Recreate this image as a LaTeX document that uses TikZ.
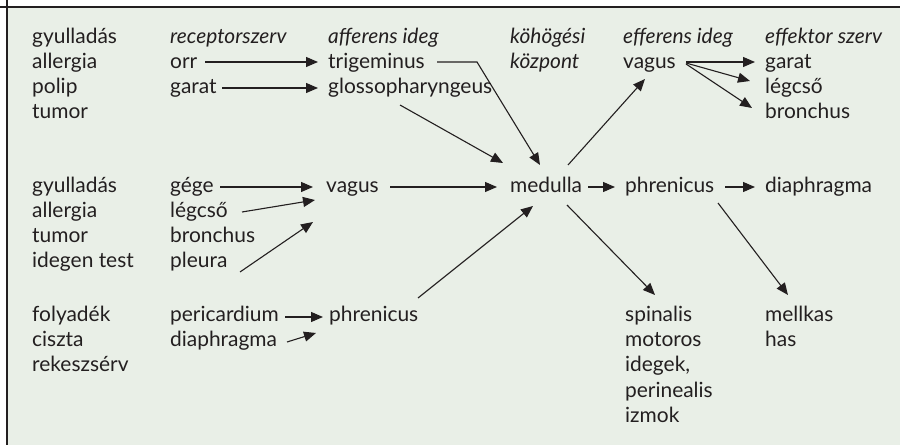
\documentclass[tikz,border=0pt]{standalone}
\usepackage{fontspec}
\setmainfont{Lato}
\usetikzlibrary{arrows.meta}
\definecolor{bg}{RGB}{233,239,231}
\definecolor{ink}{RGB}{35,31,32}
\tikzset{
  lbl/.style={anchor=base west, inner sep=0pt, text=ink, font=\fontsize{21}{24}\selectfont},
  hdr/.style={lbl, font=\fontsize{21}{24}\selectfont\itshape},
  arr/.style={draw=ink, line width=1.1bp, -{Triangle[length=12bp,width=10bp]}},
}
\begin{document}
\begin{tikzpicture}[x=1bp,y=-1bp]
\useasboundingbox (0,0) rectangle (900,445);
\fill[bg] (7,7) rectangle (900,445);
\draw[ink, line width=1.6bp] (0,7) -- (900,7) (7,0) -- (7,445);
% column 1
\foreach \t [count=\i] in {gyulladás,allergia,polip,tumor}
  \node[lbl] (a\i) at (32,{44+25*(\i-1)}) {\t};
\foreach \t [count=\i] in {gyulladás,allergia,tumor,idegen test}
  \node[lbl] (b\i) at (32,{193+25*(\i-1)}) {\t};
\foreach \t [count=\i] in {folyadék,ciszta,rekeszsérv}
  \node[lbl] (c\i) at (32,{322+25*(\i-1)}) {\t};
% headers
\node[hdr] (hrec) at (170,44) {receptorszerv};
\node[hdr] (haff) at (328,44) {afferens ideg};
\node[hdr] (hkoh) at (510,44) {köhögési};
\node[hdr] (hkoz) at (510,69) {központ};
\node[hdr] (heff) at (623,44) {efferens ideg};
\node[hdr] (hefk) at (765,44) {effektor szerv};
% receptors
\node[lbl] (orr) at (170,69) {orr};
\node[lbl] (garat) at (170,94) {garat};
\node[lbl] (gege) at (170,193) {gége};
\node[lbl] (legcso) at (170,218) {légcső};
\node[lbl] (bronchus) at (170,243) {bronchus};
\node[lbl] (pleura) at (170,268) {pleura};
\node[lbl] (peric) at (170,322) {pericardium};
\node[lbl] (diaph) at (170,347) {diaphragma};
% afferent
\node[lbl] (trig) at (328,69) {trigeminus};
\node[lbl] (glosso) at (328,94) {glossopharyngeus};
\node[lbl] (vagusA) at (326,193) {vagus};
\node[lbl] (phrenA) at (329,322) {phrenicus};
% centre
\node[lbl] (medulla) at (510,193) {medulla};
% efferent
\node[lbl] (vagusE) at (623,69) {vagus};
\node[lbl] (phrenE) at (625,193) {phrenicus};
\foreach \t [count=\i] in {spinalis,motoros,{idegek,},perinealis,izmok}
  \node[lbl] (s\i) at (625,{322+25*(\i-1)}) {\t};
% effectors
\node[lbl] (garatE) at (765,69) {garat};
\node[lbl] (legcsoE) at (765,94) {légcső};
\node[lbl] (bronchusE) at (765,119) {bronchus};
\node[lbl] (diaphE) at (765,193) {diaphragma};
\node[lbl] (mellkas) at (765,322) {mellkas};
\node[lbl] (has) at (765,347) {has};
% arrows
\draw[arr] ([shift={(35,-7)}]orr.base west) -- ([shift={(-10,-7)}]trig.base west);
\draw[arr] ([shift={(52,-6)}]garat.base west) -- ([shift={(-10,-6)}]glosso.base west);
\draw[arr] ([shift={(109,-7)}]trig.base west) -- ([shift={(149,-7)}]trig.base west) -- ([shift={(30,-28)}]medulla.base west);
\draw[arr] ([shift={(72,11)}]glosso.base west) -- ([shift={(-7,-30)}]medulla.base west);
\draw[arr] ([shift={(58,-28)}]medulla.base west) -- ([shift={(22,10)}]vagusE.base west);
\draw[arr] ([shift={(63,-7)}]vagusE.base west) -- ([shift={(-10,-7)}]garatE.base west);
\draw[arr] ([shift={(63,-6)}]vagusE.base west) -- ([shift={(-15,-13)}]legcsoE.base west);
\draw[arr] ([shift={(63,-5)}]vagusE.base west) -- ([shift={(-13,-11)}]bronchusE.base west);
\draw[arr] ([shift={(50,-6)}]gege.base west) -- ([shift={(-13,-6)}]vagusA.base west);
\draw[arr] ([shift={(72,-6)}]legcso.base west) -- ([shift={(-11,7)}]vagusA.base west);
\draw[arr] ([shift={(70,4)}]pleura.base west) -- ([shift={(-13,29)}]vagusA.base west);
\draw[arr] ([shift={(64,-6)}]vagusA.base west) -- ([shift={(-13,-6)}]medulla.base west);
\draw[arr] ([shift={(89,-24)}]phrenA.base west) -- ([shift={(23,13)}]medulla.base west);
\draw[arr] ([shift={(78,-6)}]medulla.base west) -- ([shift={(-10,-6)}]phrenE.base west);
\draw[arr] ([shift={(100,-6)}]phrenE.base west) -- ([shift={(-10,-6)}]diaphE.base west);
\draw[arr] ([shift={(57,12)}]medulla.base west) -- ([shift={(30,-27)}]s1.base west);
\draw[arr] ([shift={(93,10)}]phrenE.base west) -- ([shift={(23,-27)}]mellkas.base west);
\draw[arr] ([shift={(115,-5)}]peric.base west) -- ([shift={(-6,-5)}]phrenA.base west);
\draw[arr] ([shift={(117,-5)}]diaph.base west) -- ([shift={(-13,11)}]phrenA.base west);
\end{tikzpicture}
\end{document}
